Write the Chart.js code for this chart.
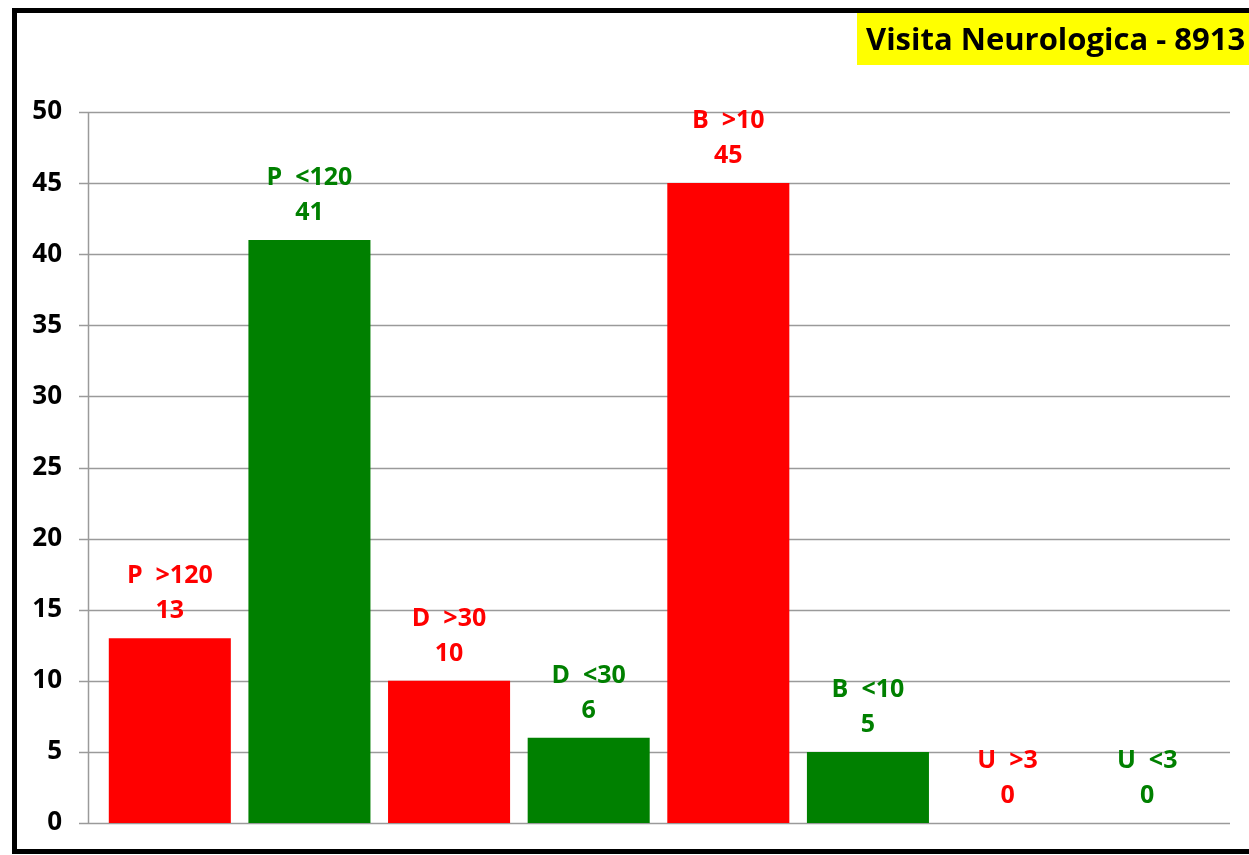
<!DOCTYPE html>
<html>
<head>
<meta charset="utf-8">
<script src="https://cdn.jsdelivr.net/npm/chart.js@4/dist/chart.umd.min.js"></script>
<style>
  html, body { margin: 0; padding: 0; background: #fff; }
  #wrap { width: 1249px; height: 855px; position: relative; }
</style>
</head>
<body>
<div id="wrap"><canvas id="neuroChart" width="1249" height="855"></canvas></div>
<script>
// dati del grafico
const categories = ['P  >120', 'P  <120', 'D  >30', 'D  <30', 'B  >10', 'B  <10', 'U  >3', 'U  <3'];
const values = [13, 41, 10, 6, 45, 5, 0, 0];
const barColors = ['#ff0000', '#008000', '#ff0000', '#008000', '#ff0000', '#008000', '#ff0000', '#008000'];
const yTicks = [0, 5, 10, 15, 20, 25, 30, 35, 40, 45, 50];
const titleText = 'Visita Neurologica - 8913';

const FONT = '"Open Sans", "DejaVu Sans", sans-serif';

// griglia, asse, bordo, titolo ed etichette disegnati a mano
const decorPlugin = {
    id: 'decor',
    beforeDatasetsDraw(chart) {
        const ctx = chart.ctx;
        const y = chart.scales.y;
        ctx.save();
        ctx.strokeStyle = '#9a9a9a';
        ctx.lineWidth = 1.5;
        yTicks.forEach(v => {
            const py = Math.round(y.getPixelForValue(v)) + 0.5;
            ctx.beginPath();
            ctx.moveTo(79, py);
            ctx.lineTo(1230, py);
            ctx.stroke();
        });
        // asse verticale
        ctx.beginPath();
        ctx.moveTo(88.5, y.getPixelForValue(50));
        ctx.lineTo(88.5, y.getPixelForValue(0));
        ctx.stroke();
        ctx.restore();
    },
    afterDatasetsDraw(chart) {
        const ctx = chart.ctx;
        const meta = chart.getDatasetMeta(0);
        ctx.save();
        ctx.font = 'bold 25px ' + FONT;
        ctx.textAlign = 'center';
        ctx.textBaseline = 'alphabetic';
        meta.data.forEach((bar, i) => {
            ctx.fillStyle = barColors[i];
            ctx.fillText(String(values[i]), bar.x, bar.y - 20);
            ctx.fillText(categories[i], bar.x, bar.y - 55);
        });

        // titolo
        ctx.fillStyle = '#ffff00';
        ctx.fillRect(857, 13, 400, 52);
        ctx.fillStyle = '#000';
        ctx.font = 'bold 31px ' + FONT;
        ctx.textAlign = 'left';
        ctx.fillText(titleText, 866, 50);

        // bordo
        ctx.strokeStyle = '#000';
        ctx.lineWidth = 5;
        ctx.strokeRect(14.5, 10.5, 1260, 841);
        ctx.restore();
    }
};

new Chart(document.getElementById('neuroChart'), {
    type: 'bar',
    data: {
        labels: categories,
        datasets: [{
            data: values,
            backgroundColor: barColors,
            borderWidth: 0,
            barPercentage: 0.874,
            categoryPercentage: 1.0
        }]
    },
    options: {
        responsive: false,
        animation: false,
        layout: { padding: { top: 112, right: 32, bottom: 32, left: 0 } },
        plugins: { legend: { display: false }, tooltip: { enabled: false } },
        scales: {
            x: { display: false },
            y: {
                min: 0,
                max: 50,
                afterBuildTicks(scale) { scale.ticks = yTicks.map(v => ({ value: v })); },
                grid: { display: false },
                border: { display: false },
                ticks: {
                    padding: 30,
                    color: '#000',
                    font: { family: FONT, size: 26, weight: 'bold' }
                },
                afterFit(scale) {
                    scale.width = 100;
                    scale.paddingTop = 0;
                    scale.paddingBottom = 0;
                }
            }
        }
    },
    plugins: [decorPlugin]
});
</script>
</body>
</html>
